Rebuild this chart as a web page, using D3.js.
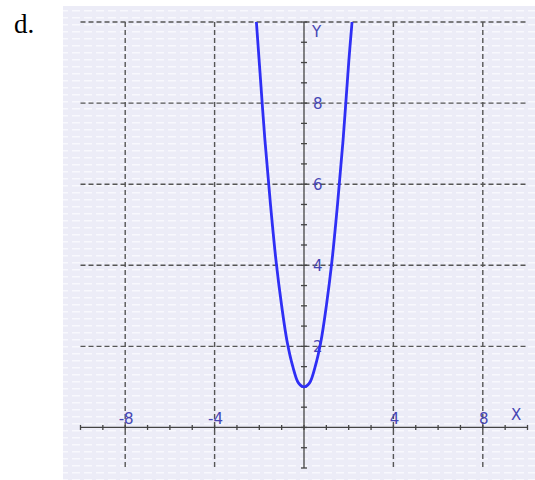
<!DOCTYPE html>
<html>
<head>
<meta charset="utf-8">
<script src="https://cdn.jsdelivr.net/npm/d3@7"></script>
<style>
  body { margin: 0; background: #fff; }
  svg { display: block; }
  .lbl { font-family: 'DejaVu Sans', sans-serif; font-size: 15px; fill: #4646b4; }
</style>
</head>
<body>
<div class="container"></div>
<script>
// points
var curveX = [-2.13, -2, -1.75, -1.5, -1.25, -1, -0.75, -0.5, -0.25, 0, 0.25, 0.5, 0.75, 1, 1.25, 1.5, 1.75, 2, 2.15]
var curveY = [10, 9, 7.1, 5.5, 4.1, 3, 2.1, 1.5, 1.1, 1, 1.1, 1.5, 2.1, 3, 4.1, 5.5, 7.1, 9, 10]
var xGrid = [-8, -4, 4, 8]
var yGrid = [2, 4, 6, 8, 10]
var xLabels = ['-8', '-4', '4', '8']
var yLabels = ['8', '6', '4', '2']

var W = 535, H = 480
var svg = d3.select('.container').append('svg').attr('width', W).attr('height', H)

// striped panel background
var defs = svg.append('defs')
var pat = defs.append('pattern').attr('id', 'stripes')
  .attr('width', 12).attr('height', 7).attr('patternUnits', 'userSpaceOnUse')
pat.append('rect').attr('width', 12).attr('height', 7).attr('fill', '#ececf7')
pat.append('rect').attr('x', 0).attr('y', 3).attr('width', 8).attr('height', 1.5).attr('fill', '#f8f8fd')

svg.append('rect').attr('x', 63).attr('y', 6).attr('width', W - 63).attr('height', H - 6)
  .attr('fill', 'url(#stripes)')

svg.append('text').attr('x', 14).attr('y', 33)
  .style('font-family', "'Liberation Serif', serif").style('font-size', '27px')
  .text('d.')

var xScale = d3.scaleLinear().domain([-10, 10]).range([80.5, 527.5])
var yScale = d3.scaleLinear().domain([-1, 10]).range([468, 22])

// dashed grid
var grid = svg.append('g').attr('stroke', '#555').attr('stroke-width', 1.4)
  .attr('stroke-dasharray', '5,3')
grid.selectAll('.vg').data(xGrid).enter().append('line')
  .attr('x1', function (d) { return xScale(d) }).attr('x2', function (d) { return xScale(d) })
  .attr('y1', yScale(10)).attr('y2', yScale(-1))
grid.selectAll('.hg').data(yGrid).enter().append('line')
  .attr('x1', xScale(-10)).attr('x2', xScale(10))
  .attr('y1', function (d) { return yScale(d) }).attr('y2', function (d) { return yScale(d) })

// axes with unit ticks
var axes = svg.append('g').attr('stroke', '#444').attr('stroke-width', 1.3)
axes.append('line').attr('x1', xScale(-10)).attr('x2', xScale(10))
  .attr('y1', yScale(0)).attr('y2', yScale(0))
axes.append('line').attr('x1', xScale(0)).attr('x2', xScale(0))
  .attr('y1', yScale(10)).attr('y2', yScale(-1))
axes.selectAll('.xt').data(d3.range(-10, 11)).enter().append('line')
  .attr('x1', function (d) { return xScale(d) }).attr('x2', function (d) { return xScale(d) })
  .attr('y1', yScale(0) - 2.5).attr('y2', yScale(0) + 2.5)
axes.selectAll('.yt').data(d3.range(-1, 10.01, 0.5)).enter().append('line')
  .attr('x1', xScale(0) - 3).attr('x2', xScale(0) + 3)
  .attr('y1', function (d) { return yScale(d) }).attr('y2', function (d) { return yScale(d) })

// labels
svg.selectAll('.xl').data(xGrid).enter().append('text').attr('class', 'lbl')
  .attr('x', function (d) { return xScale(d) + 1 }).attr('y', yScale(0) - 3)
  .attr('text-anchor', 'middle')
  .text(function (d, i) { return xLabels[i] })
svg.selectAll('.yl').data([8, 6, 4, 2]).enter().append('text').attr('class', 'lbl')
  .attr('x', xScale(0) + 9).attr('y', function (d) { return yScale(d) + 6 })
  .text(function (d, i) { return yLabels[i] })
svg.append('text').attr('class', 'lbl').attr('x', xScale(0) + 8).attr('y', 37).text('Y')
svg.append('text').attr('class', 'lbl').attr('x', 511).attr('y', 420).text('X')

// curve
var pts = curveX.map(function (x, i) { return [x, curveY[i]] })
var line = d3.line()
  .x(function (d) { return xScale(d[0]) })
  .y(function (d) { return yScale(d[1]) })
  .curve(d3.curveCatmullRom)
svg.append('path').datum(pts).attr('d', line)
  .attr('fill', 'none').attr('stroke', '#2f2ff5').attr('stroke-width', 2.8)
</script>
</body>
</html>
